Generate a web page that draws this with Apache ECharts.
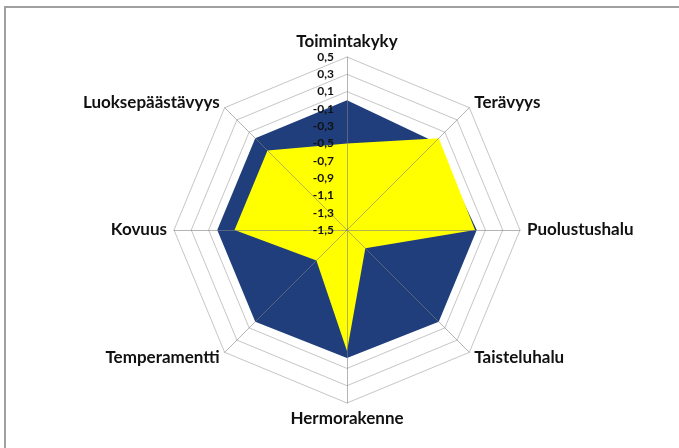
<!DOCTYPE html>
<html>
<head>
<meta charset="utf-8">
<script src="https://cdn.jsdelivr.net/npm/echarts@6/dist/echarts.min.js"></script>
<style>
  html, body { margin: 0; padding: 0; background: #fff; }
  #main { width: 679px; height: 448px; }
</style>
</head>
<body>
<div id="main"></div>
<script>
// axes, clockwise from the top
var categories = ['Toimintakyky', 'Terävyys', 'Puolustushalu', 'Taisteluhalu',
                  'Hermorakenne', 'Temperamentti', 'Kovuus', 'Luoksepäästävyys'];
var blueValues = [0.0, -0.06, 0.0, 0.0, -0.02, 0.0, 0.0, 0.0];
var yellowValues = [-0.5, 0.0, -0.02, -1.2, -0.1, -1.0, -0.2, -0.2];
var tickLabels = ['-1,5', '-1,3', '-1,1', '-0,9', '-0,7', '-0,5', '-0,3', '-0,1', '0,1', '0,3', '0,5'];

// echarts lays radar indicators counter-clockwise, so flip the order after the first
function ccw(arr) {
    return [arr[0]].concat(arr.slice(1).reverse());
}

var center = [347, 230];
var radius = 173;
var fontFamily = 'Lato, "Open Sans", sans-serif';

var indicator = ccw(categories).map(function (n) {
    return { name: n, min: -1.5, max: 0.5 };
});

var chart = echarts.init(document.getElementById('main'));

var option = {
    backgroundColor: '#fff',
    animation: false,
    graphic: [{
        type: 'rect',
        shape: { x: 5, y: 7, width: 720, height: 500 },
        style: { fill: 'none', stroke: '#a0a0a0', lineWidth: 2 },
        z: 100
    }],
    radar: [{
        center: center,
        radius: radius,
        shape: 'polygon',
        splitNumber: 10,
        startAngle: 90,
        indicator: indicator,
        axisName: {
            color: '#111',
            fontFamily: fontFamily,
            fontWeight: 'bold',
            fontSize: 17
        },
        nameGap: 7,
        axisLine: { show: false },
        splitArea: { show: false },
        splitLine: { lineStyle: { color: '#c6c6c6', width: 1 } },
        axisLabel: { show: false }
    }, {
        center: center,
        radius: radius,
        shape: 'polygon',
        splitNumber: 10,
        startAngle: 90,
        indicator: indicator,
        axisName: { show: false },
        z: 10,
        axisLine: { lineStyle: { color: 'rgba(130,130,130,0.6)', width: 1 } },
        splitArea: { show: false },
        splitLine: { show: false },
        axisLabel: { show: false }
    }],
    grid: {
        left: center[0],
        top: center[1] - radius,
        width: 1,
        height: radius
    },
    xAxis: { type: 'value', show: false },
    yAxis: {
        type: 'category',
        data: tickLabels,
        boundaryGap: false,
        axisLine: { show: false },
        axisTick: { show: false },
        splitLine: { show: false },
        axisLabel: {
            color: '#111',
            fontFamily: fontFamily,
            fontWeight: 'bold',
            fontSize: 12,
            margin: 13
        },
        z: 20
    },
    series: [{
        type: 'radar',
        radarIndex: 0,
        symbol: 'none',
        lineStyle: { width: 0 },
        data: [
            { value: ccw(blueValues), areaStyle: { color: '#1f3e7b', opacity: 1 } },
            { value: ccw(yellowValues), areaStyle: { color: '#ffff00', opacity: 1 } }
        ]
    }]
};

chart.setOption(option);
</script>
</body>
</html>
